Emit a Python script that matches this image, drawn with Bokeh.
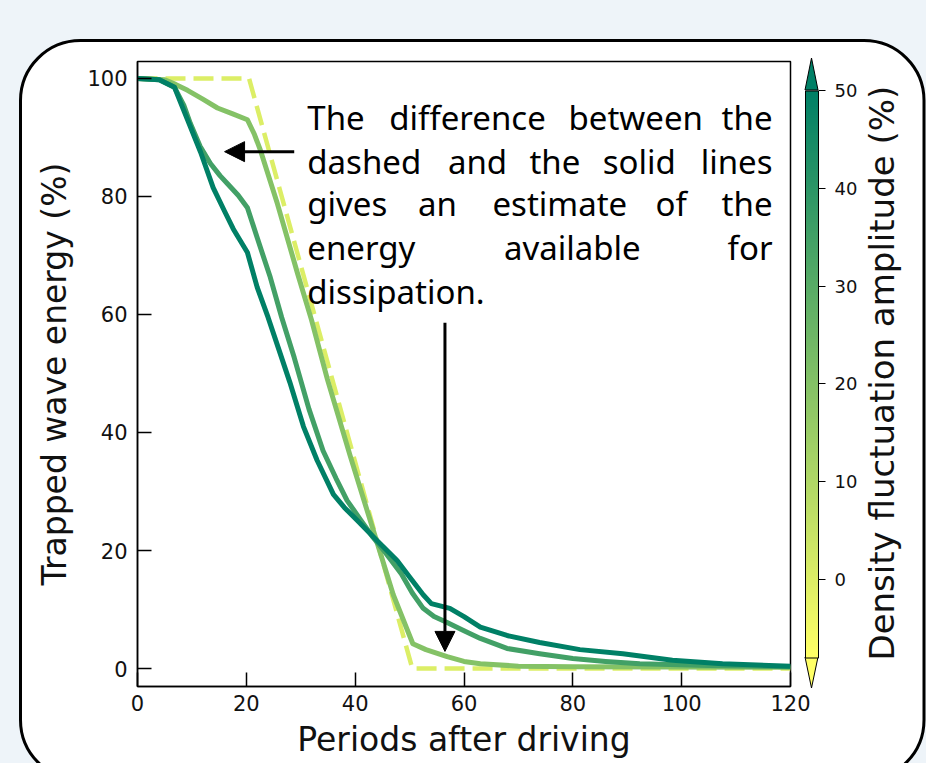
import math
from urllib.parse import quote
from bokeh.plotting import figure
from bokeh.models import (Range1d, FixedTicker, LinearColorMapper, ColorBar, Arrow,
                          NormalHead, LinearAxis)
from bokeh.core.properties import value
from bokeh.embed import file_html
from bokeh.resources import INLINE

# ---------------- data ----------------
X_TICKS = [0, 20, 40, 60, 80, 100, 120]
Y_TICKS = [0, 20, 40, 60, 80, 100]
CB_TICKS = [0, 10, 20, 30, 40, 50]
CB_LOW, CB_HIGH = -8, 50

AMP_DASHED, AMP_LIGHT, AMP_MED, AMP_DARK = 0, 20, 35, 50

DASHED_X = [0, 20.5, 50.5, 120]
DASHED_Y = [100, 100, 0, 0]

LIGHT_X = [0, 5, 7, 9.2, 12, 14.7, 17.5, 20.2, 21.5, 22.6, 25.7, 29.4, 32, 34.9, 39.1,
           43.3, 47, 50.6, 53, 56.9, 60, 63, 70, 80, 120]
LIGHT_Y = [100, 99.8, 99, 98, 96.5, 95, 94, 93, 90.5, 87.8, 78.8, 67, 59, 49, 36,
           23.5, 12.5, 4.2, 3.2, 2.0, 1.2, 0.8, 0.4, 0.3, 0.2]

MED_X = [0, 4, 6.8, 8.5, 9.7, 11.5, 13.4, 15.2, 16.5, 18.5, 20.2, 22, 24.4, 26.5, 28.8,
         31.5, 34.1, 36.5, 38.5, 41, 43.3, 45.5, 48.5, 50.5, 52.5, 54.5, 56.9, 60, 63,
         67.9, 73.9, 80, 86, 92.3, 105, 120]
MED_Y = [100, 99.8, 98.5, 95.5, 92.4, 88.5, 85.6, 83.5, 82.2, 80.2, 78.1, 73, 66.3, 59.5, 52.7,
         44, 36.9, 32.2, 28.5, 25.2, 22.2, 19.7, 16.0, 12.8, 10.2, 8.8, 7.8, 6.4, 5.1,
         3.4, 2.5, 1.7, 1.2, 0.8, 0.5, 0.3]

DARK_X = [0, 4, 6.8, 9.2, 11.6, 13.9, 16, 17.6, 20.2, 22, 24, 26, 28, 30.5, 33, 36, 38,
          40.4, 44, 47.7, 50, 52.5, 54, 57.4, 60, 63, 67.9, 73.9, 81.3, 89.2, 98.3, 107.5, 120]
DARK_Y = [100, 99.8, 98.5, 93, 87.5, 81.5, 77.5, 74.5, 70.5, 64.6, 59.5, 54, 48.5, 41, 35.3,
          29.5, 27.3, 25.1, 21.7, 18.3, 15.5, 12.5, 11, 10.2, 8.8, 7, 5.6, 4.4, 3.2, 2.5,
          1.4, 0.8, 0.4]

NOTE_LINES = [
    ["The", "difference", "between", "the"],
    ["dashed", "and", "the", "solid", "lines"],
    ["gives", "an", "estimate", "of", "the"],
    ["energy", "available", "for"],
    ["dissipation."],
]
NOTE_BASELINES = [93.39, 85.93, 78.81, 71.36, 63.90]
NOTE_LEFT, NOTE_RIGHT = 31.2, 116.7
NOTE_MIDDLE_CENTERS = [[60.64, 91.56], [62.48, 76.70, 92.20], [55.14, 77.61, 98.07], [79.91], []]

X_LABEL = "Periods after driving"
Y_LABEL = "Trapped wave energy (%)"
CB_LABEL = "Density fluctuation amplitude (%)"
CB_LABEL_START = -8.31   # colour-bar value where the rotated label begins

# ---------------- colours ----------------
def summer_r(n=256):
    out = []
    for i in range(n):
        s = i / (n - 1)
        r, g, b = 1 - s, 1 - 0.5 * s, 0.4
        out.append("#%02x%02x%02x" % (round(r * 255), round(g * 255), round(b * 255)))
    return out

PALETTE = summer_r()

def amp_color(a):
    t = (a - CB_LOW) / (CB_HIGH - CB_LOW)
    i = max(0, min(255, round(t * 255)))
    return PALETTE[i]

BG = "#eef4f9"
FONT = "DejaVu Sans"
W, H = 926, 763

# page decoration: rounded white panel + colour-bar extension triangles (CSS background)
svg = (
    f"<svg xmlns='http://www.w3.org/2000/svg' width='{W}' height='{H}'>"
    f"<rect x='20.5' y='40.5' width='903.5' height='739.5' rx='60' ry='60' "
    f"fill='white' stroke='black' stroke-width='3'/>"
    f"<polygon points='805,90 818,90 811.5,58' fill='{PALETTE[-1]}' stroke='black' stroke-width='1'/>"
    f"<polygon points='805,657 818,657 811.5,688' fill='{PALETTE[0]}' stroke='black' stroke-width='1'/>"
    f"</svg>"
)
bg_css = {
    "background-color": BG,
    "background-image": f'url("data:image/svg+xml;charset=utf-8,{quote(svg)}")',
    "background-repeat": "no-repeat",
    "background-position": "0 0",
}

# ---------------- figure ----------------
p = figure(width=W, height=H, x_range=Range1d(0, 120), y_range=Range1d(-3.05, 102.88),
           output_backend="svg", toolbar_location=None,
           min_border_left=137, min_border_right=136, min_border_top=61, min_border_bottom=77,
           background_fill_color="white", border_fill_alpha=0, styles=bg_css)
p.extra_y_ranges = {"cb": Range1d(-10.966, 52.966)}
p.xgrid.visible = False
p.ygrid.visible = False
p.outline_line_color = "black"
p.outline_line_width = 1.5
p.outline_line_alpha = 1

for ax in (p.xaxis[0], p.yaxis[0]):
    ax.axis_line_color = "black"
    ax.axis_line_width = 1.5
    ax.major_tick_line_color = "black"
    ax.major_tick_line_width = 1.5
    ax.major_tick_in = 14
    ax.major_tick_out = 0
    ax.minor_tick_line_color = None
    ax.major_label_text_font = FONT
    ax.major_label_text_font_size = "21px"
    ax.major_label_text_color = "#111111"
    ax.axis_label_text_font = FONT
    ax.axis_label_text_font_size = "33px"
    ax.axis_label_text_font_style = "normal"
    ax.axis_label_text_color = "#111111"

p.xaxis.ticker = FixedTicker(ticks=X_TICKS)
p.yaxis.ticker = FixedTicker(ticks=Y_TICKS)
p.xaxis.axis_label = X_LABEL
p.yaxis.axis_label = Y_LABEL
p.xaxis.major_label_standoff = 8
p.xaxis.axis_label_standoff = 6
p.yaxis.major_label_standoff = 10
p.yaxis.axis_label_standoff = 10

# ---------------- lines ----------------
p.line(DASHED_X, DASHED_Y, line_color=amp_color(AMP_DASHED), line_width=4.5, line_dash="20 8")
p.line(LIGHT_X, LIGHT_Y, line_color=amp_color(AMP_LIGHT), line_width=5, line_join="round")
p.line(MED_X, MED_Y, line_color=amp_color(AMP_MED), line_width=5, line_join="round")
p.line(DARK_X, DARK_Y, line_color=amp_color(AMP_DARK), line_width=5, line_join="round")

# ---------------- annotation text (justified) ----------------
lx, ly, lt = [], [], []
rx, ry, rt = [], [], []
cx, cy, ct = [], [], []
for words, base, mids in zip(NOTE_LINES, NOTE_BASELINES, NOTE_MIDDLE_CENTERS):
    lx.append(NOTE_LEFT); ly.append(base); lt.append(words[0])
    if len(words) > 1:
        rx.append(NOTE_RIGHT); ry.append(base); rt.append(words[-1])
        for w, m in zip(words[1:-1], mids):
            cx.append(m); cy.append(base); ct.append(w)
common = dict(text_font=value("Noto Sans"), text_font_size=value("33px"),
              text_color="black", text_baseline="alphabetic")
p.text(lx, ly, text=lt, text_align="left", **common)
p.text(rx, ry, text=rt, text_align="right", **common)
p.text(cx, cy, text=ct, text_align="center", **common)

# arrows
p.add_layout(Arrow(start=None, end=NormalHead(size=20, fill_color="black", line_color="black"),
                   x_start=28.8, y_start=87.6, x_end=16.0, y_end=87.6,
                   line_color="black", line_width=3))
p.add_layout(Arrow(start=None, end=NormalHead(size=20, fill_color="black", line_color="black"),
                   x_start=56.5, y_start=58.6, x_end=56.5, y_end=2.9,
                   line_color="black", line_width=3))

# ---------------- colour bar ----------------
# invisible spacer between plot frame and colour bar
spacer = LinearAxis(y_range_name="cb", ticker=FixedTicker(ticks=[20]),
                    major_label_overrides={20: ""}, major_tick_out=15,
                    major_tick_in=0, axis_line_color=None, major_tick_line_alpha=0,
                    minor_tick_line_color=None, major_label_standoff=0,
                    major_label_text_font_size="1px")
p.add_layout(spacer, "right")

mapper = LinearColorMapper(palette=PALETTE, low=CB_LOW, high=CB_HIGH)
cb = ColorBar(color_mapper=mapper, ticker=FixedTicker(ticks=[]),
              width=13, height=567, location="center_left",
              margin=0, padding=0, label_standoff=0,
              major_tick_in=0, major_tick_out=0, major_tick_line_color=None,
              minor_tick_line_color=None,
              bar_line_color="black", bar_line_width=1,
              border_line_color=None, background_fill_alpha=0)
p.add_layout(cb, "right")

cb_axis = LinearAxis(y_range_name="cb", ticker=FixedTicker(ticks=CB_TICKS),
                     axis_line_color=None, major_tick_out=7, major_tick_in=0,
                     major_tick_line_color="black", major_tick_line_width=1.2,
                     minor_tick_line_color=None, major_label_standoff=9,
                     major_label_text_font=FONT, major_label_text_font_size="18px",
                     major_label_text_color="#111111")
p.add_layout(cb_axis, "right")

# rotated colour-bar label (reads bottom to top), drawn as the single tick label of an axis
cb_label_axis = LinearAxis(y_range_name="cb", ticker=FixedTicker(ticks=[CB_LABEL_START]),
                           major_label_overrides={CB_LABEL_START: CB_LABEL},
                           major_label_orientation=math.pi / 2,
                           axis_line_color=None, major_tick_line_alpha=0,
                           minor_tick_line_color=None, major_tick_out=0, major_tick_in=0,
                           major_label_standoff=22,
                           major_label_text_font=FONT, major_label_text_font_size="34px",
                           major_label_text_line_height=0.9,
                           major_label_text_color="#111111")
p.add_layout(cb_label_axis, "right")

open("out.html", "w").write(file_html(p, INLINE))
